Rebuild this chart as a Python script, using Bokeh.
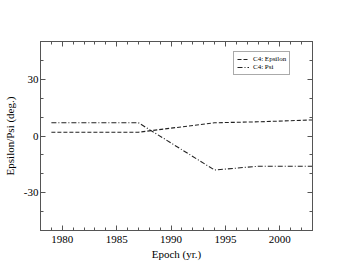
from bokeh.plotting import figure
from bokeh.models import (FixedTicker, LinearAxis, Legend, LegendItem, Range1d)
from bokeh.embed import file_html
from bokeh.resources import INLINE

# data
eps_years = [1979, 1987, 1994, 1998, 2003]
eps_vals = [2.0, 2.0, 7.0, 7.5, 8.5]
psi_years = [1979, 1987, 1994, 1998, 2003]
psi_vals = [7.0, 7.0, -18.0, -16.0, -16.0]
x_major = [1980, 1985, 1990, 1995, 2000]
x_minor = [y for y in range(1978, 2004) if y not in x_major]
y_major = [-30, 0, 30]
y_minor = [-50, -40, -20, -10, 10, 20, 40, 50]

FONT = "Liberation Serif"

p = figure(frame_width=272, frame_height=189, output_backend="svg", toolbar_location=None,
           x_range=Range1d(1978, 2003), y_range=Range1d(-50, 50),
           min_border_left=0, min_border_right=32, min_border_top=41,
           min_border_bottom=0, x_axis_label="Epoch (yr.)",
           y_axis_label="Epsilon/Psi (deg.)")
p.grid.visible = False
p.outline_line_color = "#555555"
p.background_fill_color = "white"
p.border_fill_color = "white"

def style_axis(ax, ticks, minor, labels=True):
    ax.ticker = FixedTicker(ticks=ticks, minor_ticks=minor)
    ax.axis_line_color = "#555555"
    ax.major_tick_line_color = "#555555"
    ax.minor_tick_line_color = "#555555"
    ax.major_tick_in = 5
    ax.major_tick_out = 0
    ax.minor_tick_in = 3
    ax.minor_tick_out = 0
    ax.major_label_text_font = FONT
    ax.major_label_text_font_size = "11px"
    ax.major_label_text_color = "black"
    ax.axis_label_text_font = FONT
    ax.axis_label_text_font_size = "11px"
    ax.axis_label_text_font_style = "normal"
    ax.axis_label_text_color = "black"
    if labels:
        ax.major_label_overrides = {t: str(t) for t in ticks}
    else:
        ax.major_label_overrides = {t: "" for t in ticks}
        ax.major_label_standoff = 0

style_axis(p.xaxis[0], x_major, x_minor)
p.xaxis[0].major_label_standoff = 5
p.xaxis[0].axis_label_standoff = 2
style_axis(p.yaxis[0], y_major, y_minor)
p.yaxis[0].major_label_standoff = 2
p.yaxis[0].axis_label_standoff = 5

top = LinearAxis()
style_axis(top, x_major, x_minor, labels=False)
p.add_layout(top, "above")
right = LinearAxis()
style_axis(right, y_major, y_minor, labels=False)
p.add_layout(right, "right")

r1 = p.line(eps_years, eps_vals, line_color="#222222", line_width=1.1, line_dash="4 2")
r2 = p.line(psi_years, psi_vals, line_color="#222222", line_width=1.1, line_dash="5 2 1 2")

legend = Legend(items=[LegendItem(label="C4: Epsilon", renderers=[r1]),
                       LegendItem(label="C4: Psi", renderers=[r2])],
                location=(193, 155), label_text_font=FONT, label_text_font_size="7px",
                label_text_color="black",
                glyph_width=12, glyph_height=8, label_height=8, spacing=0,
                padding=3, margin=0, label_standoff=4,
                border_line_color="#555555", border_line_width=1,
                background_fill_alpha=1)
p.add_layout(legend, "center")

open("out.html", "w").write(file_html(p, INLINE))
